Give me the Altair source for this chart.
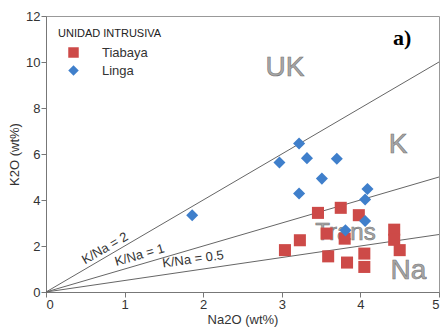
import altair as alt
import pandas as pd

# Sample compositions (wt%)
tiabaya_na2o = [3.04, 3.23, 3.46, 3.75, 3.98, 3.57, 3.80, 3.59, 3.83, 4.05, 4.05, 4.43, 4.43, 4.50]
tiabaya_k2o = [1.82, 2.25, 3.44, 3.66, 3.34, 2.54, 2.32, 1.55, 1.28, 1.67, 1.09, 2.71, 2.27, 1.82]

linga_na2o = [1.86, 2.97, 3.22, 3.32, 3.70, 3.51, 3.22, 4.09, 4.06, 4.06, 3.81]
linga_k2o = [3.34, 5.63, 6.46, 5.82, 5.79, 4.93, 4.28, 4.48, 4.02, 3.09, 2.68]

# Reference K/Na ratio lines
ratios = [2, 1, 0.5]
ratio_labels = ["K/Na = 2", "K/Na = 1", "K/Na = 0.5"]
ratio_label_x = [0.75, 1.19, 1.87]
ratio_label_y = [1.90, 1.60, 1.42]
ratio_label_angle = [330, 344, 352]

# Field names
field_names = ["UK", "K", "Trans", "Na"]
field_x = [3.04, 4.48, 3.81, 4.61]
field_y = [9.74, 6.39, 2.56, 0.90]
field_size = [28, 28, 24, 28]

groups = ["Tiabaya", "Linga"]
colors = ["#cd4a48", "#3f7fcb"]

points = pd.DataFrame(
    {"Na2O": tiabaya_na2o + linga_na2o,
     "K2O": tiabaya_k2o + linga_k2o,
     "Unidad": ["Tiabaya"] * len(tiabaya_na2o) + ["Linga"] * len(linga_na2o)}
)

line_rows = []
for r in ratios:
    for x in (0, 5):
        line_rows.append({"ratio": str(r), "Na2O": x, "K2O": r * x})
lines_df = pd.DataFrame(line_rows)

xscale = alt.Scale(domain=[0, 5], nice=False)
yscale = alt.Scale(domain=[0, 12], nice=False)

xaxis = alt.Axis(values=[0, 1, 2, 3, 4, 5], format="d", title="Na2O (wt%)", grid=False)
yaxis = alt.Axis(values=list(range(13)), title="K2O (wt%)", grid=False,
                 labelExpr="datum.value % 2 == 0 ? datum.label : ''")

ref_lines = alt.Chart(lines_df).mark_line(color="#666666", strokeWidth=1).encode(
    x=alt.X("Na2O:Q", scale=xscale, axis=xaxis),
    y=alt.Y("K2O:Q", scale=yscale, axis=yaxis),
    detail="ratio:N",
)

ratio_df = pd.DataFrame({"label": ratio_labels, "x": ratio_label_x,
                         "y": ratio_label_y, "angle": ratio_label_angle})
ratio_text = alt.layer(*[
    alt.Chart(ratio_df.iloc[[i]]).mark_text(
        font="Liberation Sans", fontSize=13, color="#333333", angle=a, baseline="middle"
    ).encode(x=alt.X("x:Q", scale=xscale), y=alt.Y("y:Q", scale=yscale), text="label:N")
    for i, a in enumerate(ratio_label_angle)
])

field_df = pd.DataFrame({"name": field_names, "x": field_x, "y": field_y, "size": field_size})
field_text = alt.Chart(field_df).mark_text(
    font="Liberation Sans", color="#a8a8a8", stroke="#777777", strokeWidth=0.6,
    baseline="middle"
).encode(
    x=alt.X("x:Q", scale=xscale),
    y=alt.Y("y:Q", scale=yscale),
    text="name:N",
    size=alt.Size("size:Q", scale=None, legend=None),
)

pts = alt.Chart(points).mark_point(filled=True, opacity=1).encode(
    x=alt.X("Na2O:Q", scale=xscale),
    y=alt.Y("K2O:Q", scale=yscale),
    color=alt.Color("Unidad:N", scale=alt.Scale(domain=groups, range=colors),
                    legend=alt.Legend(title="UNIDAD INTRUSIVA", orient="none",
                                      legendX=12, legendY=12, labelOffset=22,
                                      symbolOffset=9,
                                      titleFontSize=11, titleFontWeight="normal",
                                      titleColor="#222222", titleFont="Liberation Sans",
                                      labelFont="Liberation Sans", labelFontSize=13,
                                      labelColor="#333333", symbolSize=110,
                                      rowPadding=4, titlePadding=7)),
    shape=alt.Shape("Unidad:N", scale=alt.Scale(domain=groups, range=["square", "diamond"])),
    size=alt.value(145),
)

tag = alt.Chart(pd.DataFrame({"t": ["a)"]})).mark_text(
    font="Liberation Serif", fontSize=22, fontWeight="bold", color="#000000",
    align="left", baseline="middle"
).encode(x=alt.value(347), y=alt.value(22), text="t:N")

chart = alt.layer(ref_lines, ratio_text, field_text, pts, tag).properties(
    width=393, height=276,
    autosize=alt.AutoSizeParams(type="none"),
    padding={"left": 46, "top": 16, "right": 2, "bottom": 37},
).configure_view(stroke="#999999").configure_axis(
    domainColor="#777777", tickColor="#777777", tickSize=5,
    labelFont="Liberation Sans", labelFontSize=13, labelColor="#333333",
    titleFont="Liberation Sans", titleFontSize=13, titleFontWeight="normal",
    titleColor="#333333", labelPadding=1,
).configure_axisY(titlePadding=4).configure_axisX(titlePadding=2)

chart.save("out.html", embed_options={"renderer": "svg", "actions": False})
